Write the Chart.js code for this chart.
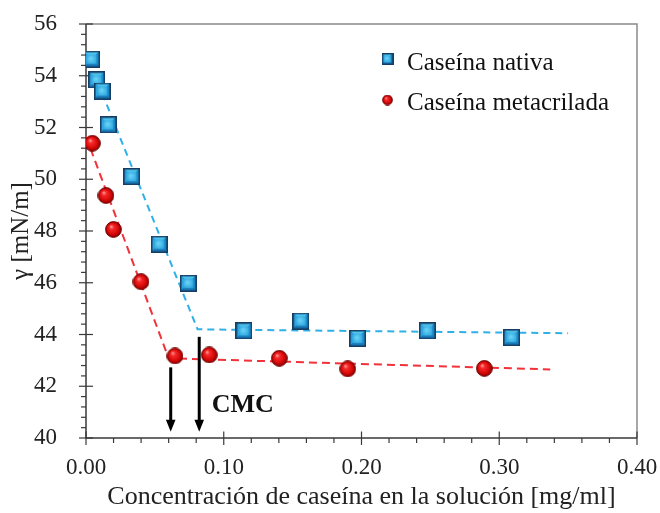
<!DOCTYPE html>
<html><head><meta charset="utf-8">
<script src="https://cdn.jsdelivr.net/npm/chart.js@4/dist/chart.umd.min.js"></script>
<style>html,body{margin:0;padding:0;background:#fff;}canvas{display:block;}</style>
</head><body>
<canvas id="c" width="660" height="513"></canvas>
<script>
// ---- data ----
const seriesLabels = ['Caseína nativa', 'Caseína metacrilada'];
const xNativa = [0.0041, 0.0078, 0.0119, 0.0162, 0.0332, 0.0532, 0.0743, 0.1147, 0.1560, 0.1972, 0.2478, 0.3090];
const yNativa = [54.64, 53.84, 53.41, 52.10, 50.10, 47.49, 45.98, 44.14, 44.52, 43.85, 44.14, 43.88];
const xMeta = [0.0046, 0.0145, 0.0199, 0.0399, 0.0646, 0.0895, 0.1403, 0.1900, 0.2892];
const yMeta = [51.39, 49.37, 48.06, 46.04, 43.17, 43.21, 43.08, 42.67, 42.69];
const fitNativaX = [0.002, 0.081, 0.350];
const fitNativaY = [54.60, 44.20, 44.05];
const fitMetaX = [0.000, 0.060, 0.337];
const fitMetaY = [51.65, 43.08, 42.65];
const arrowX = [0.0615, 0.0822];
const arrowTopY = [42.73, 43.91];
const arrowTipY = [40.24, 40.24];
const cmcText = 'CMC';
const cmcX = [0.0913];
const cmcY = [41.02];
const xTitle = 'Concentración de caseína en la solución [mg/ml]';
const yTitle = 'γ [mN/m]';

const xMin = 0, xMax = 0.4, xStep = 0.1, xMinorDiv = 5;
const yMin = 40, yMax = 56, yStep = 2, yMinorDiv = 5;

const pts = (xs, ys) => xs.map((x, i) => ({x, y: ys[i]}));
const FAM = '"Liberation Serif", "Times New Roman", serif';

// ---- marker images ----
function makeSquare(s) {
  const c = document.createElement('canvas'); c.width = s; c.height = s;
  const g = c.getContext('2d');
  g.fillStyle = '#163d63'; g.fillRect(0, 0, s, s);
  const b = 1.6, i0 = b, i1 = s - b, m = s / 2, k = s * 0.28;
  const tri = (col, p) => { g.fillStyle = col; g.beginPath(); g.moveTo(p[0], p[1]); for (let j = 2; j < p.length; j += 2) g.lineTo(p[j], p[j+1]); g.closePath(); g.fill(); };
  tri('#4ec4f0', [i0,i0, i1,i0, m,m]);
  tri('#2fa6e0', [i0,i0, i0,i1, m,m]);
  tri('#1679b8', [i0,i1, i1,i1, m,m]);
  tri('#1c8bcb', [i1,i0, i1,i1, m,m]);
  const rg = g.createRadialGradient(m - 1, m - 1, 0, m, m, k * 1.4);
  rg.addColorStop(0, '#6fd6f8'); rg.addColorStop(1, '#25a0dc');
  g.fillStyle = rg; g.fillRect(m - k, m - k, 2 * k, 2 * k);
  return c;
}
function makeCircle(s) {
  const c = document.createElement('canvas'); c.width = s; c.height = s;
  const g = c.getContext('2d');
  const r = s / 2 - 0.6, m = s / 2;
  const rg = g.createRadialGradient(m - r * 0.3, m - r * 0.38, r * 0.05, m, m, r);
  rg.addColorStop(0, '#ff9a9a'); rg.addColorStop(0.25, '#f52a2a'); rg.addColorStop(0.7, '#d80808'); rg.addColorStop(1, '#8a0000');
  g.fillStyle = rg; g.beginPath(); g.arc(m, m, r, 0, Math.PI * 2); g.fill();
  g.strokeStyle = '#6a0000'; g.lineWidth = 0.9; g.stroke();
  return c;
}
const sqBig = makeSquare(17), ciBig = makeCircle(17);
const sqSmall = makeSquare(12), ciSmall = makeCircle(11);

// ---- plugin: frame, ticks, arrows, label, legend ----
const decor = {
  id: 'decor',
  beforeDatasetsDraw(chart) {
    const {ctx, chartArea: a, scales: {x, y}} = chart;
    ctx.save();
    ctx.lineCap = 'butt';
    ctx.strokeStyle = '#8a8a8a'; ctx.lineWidth = 1.5;
    ctx.beginPath(); ctx.moveTo(a.left, a.top); ctx.lineTo(a.right, a.top); ctx.lineTo(a.right, a.bottom); ctx.stroke();
    ctx.strokeStyle = '#3a3a3a'; ctx.lineWidth = 1.5;
    ctx.beginPath(); ctx.moveTo(a.left, a.top); ctx.lineTo(a.left, a.bottom); ctx.lineTo(a.right, a.bottom); ctx.stroke();
    ctx.lineWidth = 1.2;
    const nx = Math.round((xMax - xMin) / xStep * xMinorDiv);
    for (let i = 0; i <= nx; i++) {
      const px = x.getPixelForValue(xMin + i * xStep / xMinorDiv);
      const major = i % xMinorDiv === 0;
      ctx.beginPath(); ctx.moveTo(px, a.bottom + (major ? -6.5 : 0)); ctx.lineTo(px, a.bottom + (major ? 7 : 5)); ctx.stroke();
    }
    const ny = Math.round((yMax - yMin) / yStep * yMinorDiv);
    for (let i = 0; i <= ny; i++) {
      const py = y.getPixelForValue(yMin + i * yStep / yMinorDiv);
      const major = i % yMinorDiv === 0;
      ctx.beginPath(); ctx.moveTo(a.left - (major ? 7 : 5), py); ctx.lineTo(a.left + (major ? 7 : 0), py); ctx.stroke();
    }
    ctx.restore();
  },
  afterDatasetsDraw(chart) {
    const {ctx, chartArea: a, scales: {x, y}} = chart;
    ctx.save();
    ctx.strokeStyle = '#000'; ctx.fillStyle = '#000'; ctx.lineWidth = 3;
    arrowX.forEach((v, i) => {
      const px = x.getPixelForValue(v), top = y.getPixelForValue(arrowTopY[i]), tip = y.getPixelForValue(arrowTipY[i]);
      ctx.beginPath(); ctx.moveTo(px, top); ctx.lineTo(px, tip - 10); ctx.stroke();
      ctx.beginPath(); ctx.moveTo(px - 4.8, tip - 12); ctx.lineTo(px + 4.8, tip - 12); ctx.lineTo(px, tip); ctx.closePath(); ctx.fill();
    });
    ctx.font = 'bold 26px ' + FAM;
    ctx.textBaseline = 'alphabetic'; ctx.textAlign = 'left';
    ctx.fillStyle = '#111';
    ctx.fillText(cmcText, x.getPixelForValue(cmcX[0]), y.getPixelForValue(cmcY[0]));
    // legend
    const icons = [sqSmall, ciSmall];
    const lx = a.left + 301.5, tx = a.left + 321;
    const rowsMark = [a.top + 35, a.top + 76], rowsText = [a.top + 45.5, a.top + 86];
    ctx.font = '25px ' + FAM;
    ctx.fillStyle = '#111';
    chart.data.datasets.filter(d => d.isSeries).forEach((d, i) => {
      const im = icons[i];
      ctx.drawImage(im, lx - im.width / 2, rowsMark[i] - im.height / 2);
      ctx.fillText(d.label, tx, rowsText[i]);
    });
    ctx.restore();
  }
};

new Chart(document.getElementById('c'), {
  type: 'scatter',
  data: {
    datasets: [
      {label: seriesLabels[0], isSeries: true, data: pts(xNativa, yNativa), pointStyle: sqBig, pointRadius: 8, pointHoverRadius: 8, order: 0, showLine: false},
      {label: seriesLabels[1], isSeries: true, data: pts(xMeta, yMeta), pointStyle: ciBig, pointRadius: 8, pointHoverRadius: 8, order: 0, showLine: false},
      {label: 'fit1', data: pts(fitNativaX, fitNativaY), showLine: true, pointRadius: 0, borderColor: '#2eb0e8', borderWidth: 2, borderDash: [7, 5], order: 2, fill: false},
      {label: 'fit2', data: pts(fitMetaX, fitMetaY), showLine: true, pointRadius: 0, borderColor: '#f2323a', borderWidth: 2, borderDash: [8, 5], order: 2, fill: false}
    ]
  },
  options: {
    responsive: false,
    animation: false,
    devicePixelRatio: 1,
    layout: {autoPadding: false, padding: {top: 24, right: 23, left: 0, bottom: 0}},
    plugins: {legend: {display: false}, tooltip: {enabled: false}},
    scales: {
      x: {
        type: 'linear', min: xMin, max: xMax,
        grid: {display: false}, border: {display: false},
        ticks: {stepSize: xStep, padding: 8, color: '#222', font: {family: FAM, size: 23}, callback: v => v.toFixed(2)},
        title: {display: true, text: xTitle, color: '#222', font: {family: FAM, size: 26}, padding: {top: 0, bottom: 0}},
        afterFit: s => { s.height = 75; s.paddingLeft = 0; s.paddingRight = 0; }
      },
      y: {
        type: 'linear', min: yMin, max: yMax,
        grid: {display: false}, border: {display: false},
        ticks: {stepSize: yStep, padding: 21, color: '#222', font: {family: FAM, size: 23}},
        title: {display: true, text: yTitle, color: '#222', font: {family: FAM, size: 25}, padding: {top: 6, bottom: 0}},
        afterFit: s => { s.width = 86; s.paddingTop = 0; s.paddingBottom = 0; }
      }
    }
  },
  plugins: [decor]
});
</script>
</body></html>
